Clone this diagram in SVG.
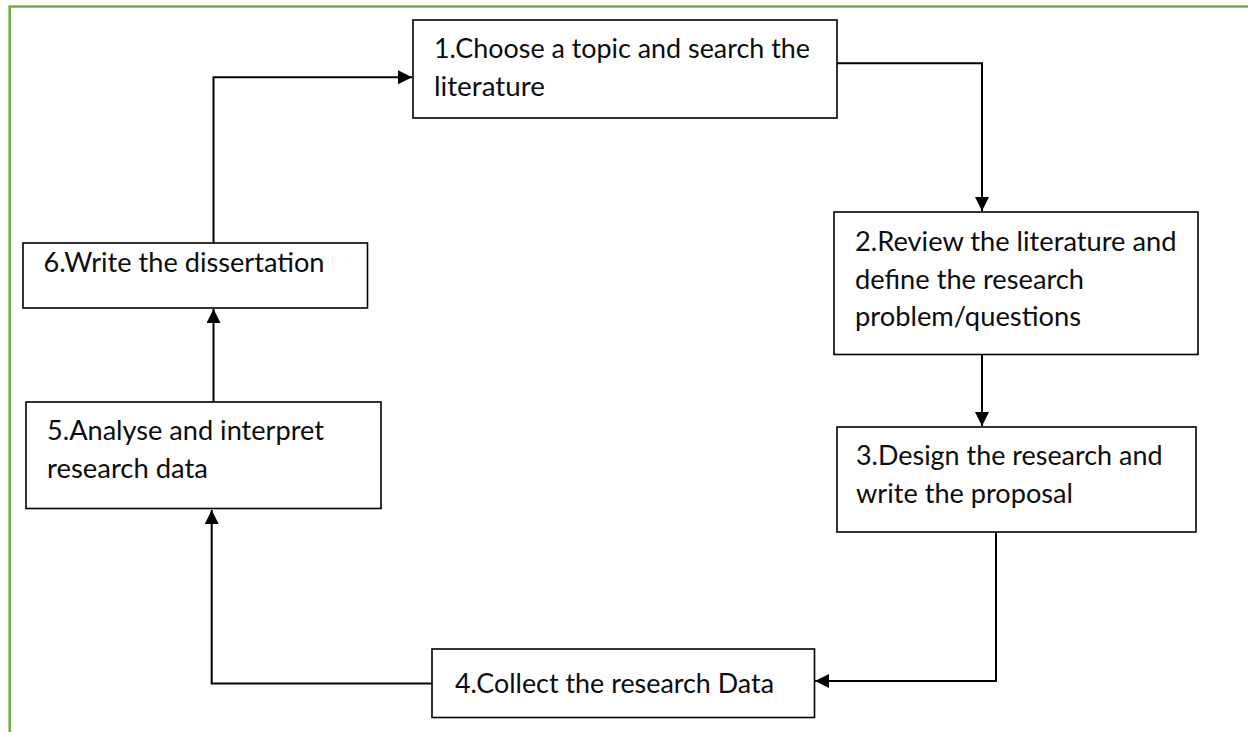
<svg xmlns="http://www.w3.org/2000/svg" width="1248" height="732" viewBox="0 0 1248 732">
  <style>
    .box { fill: #ffffff; stroke: #000000; stroke-width: 1.6; }
    .lbl { font-family: Lato, "Open Sans", "Liberation Sans", sans-serif; font-size: 27px; fill: #0d0d0d; }
    .conn { fill: none; stroke: #000000; stroke-width: 2; }
    .frame { fill: none; stroke: #70AD47; stroke-width: 2.6; }
  </style>
  <defs>
    <marker id="arrow" markerUnits="userSpaceOnUse" markerWidth="15" markerHeight="14" refX="14" refY="7" orient="auto">
      <path d="M0,0 L14,7 L0,14 z" fill="#000000"/>
    </marker>
  </defs>

  <path class="frame" d="M9.7,732 V6.5 H1248"/>

  <g id="connectors">
    <polyline class="conn" points="213.5,243 213.5,77.3 412,77.3" marker-end="url(#arrow)"/>
    <polyline class="conn" points="837,63.3 982,63.3 982,211" marker-end="url(#arrow)"/>
    <polyline class="conn" points="982,354.5 982,426" marker-end="url(#arrow)"/>
    <polyline class="conn" points="996,532 996,681 815,681" marker-end="url(#arrow)"/>
    <polyline class="conn" points="432,683.5 211.7,683.5 211.7,510" marker-end="url(#arrow)"/>
    <polyline class="conn" points="213.5,402 213.5,309" marker-end="url(#arrow)"/>
  </g>

  <g id="node1">
    <rect class="box" x="413" y="20" width="424" height="98"/>
    <text class="lbl" x="434" y="58" textLength="376" lengthAdjust="spacingAndGlyphs">1.Choose a topic and search the</text>
    <text class="lbl" x="434" y="95.5" textLength="111" lengthAdjust="spacingAndGlyphs">literature</text>
  </g>

  <g id="node2">
    <rect class="box" x="834" y="212" width="364" height="142.5"/>
    <text class="lbl" x="855" y="251" textLength="321.5" lengthAdjust="spacingAndGlyphs">2.Review the literature and</text>
    <text class="lbl" x="855" y="288.5" textLength="229" lengthAdjust="spacingAndGlyphs">define the research</text>
    <text class="lbl" x="855" y="326" textLength="226" lengthAdjust="spacingAndGlyphs">problem/questions</text>
  </g>

  <g id="node3">
    <rect class="box" x="837" y="427" width="359" height="105"/>
    <text class="lbl" x="856" y="465" textLength="306.5" lengthAdjust="spacingAndGlyphs">3.Design the research and</text>
    <text class="lbl" x="856" y="502.5" textLength="217" lengthAdjust="spacingAndGlyphs">write the proposal</text>
  </g>

  <g id="node4">
    <rect class="box" x="432" y="649" width="382.5" height="68.5"/>
    <text class="lbl" x="455" y="692.5" textLength="319" lengthAdjust="spacingAndGlyphs">4.Collect the research Data</text>
  </g>

  <g id="node5">
    <rect class="box" x="26" y="402" width="355" height="106.5"/>
    <text class="lbl" x="47" y="440" textLength="277" lengthAdjust="spacingAndGlyphs">5.Analyse and interpret</text>
    <text class="lbl" x="47" y="478" textLength="161" lengthAdjust="spacingAndGlyphs">research data</text>
  </g>

  <g id="node6">
    <rect class="box" x="23" y="243" width="344.5" height="65"/>
    <text class="lbl" x="43.5" y="272" textLength="281" lengthAdjust="spacingAndGlyphs">6.Write the dissertation</text>
  </g>
</svg>
